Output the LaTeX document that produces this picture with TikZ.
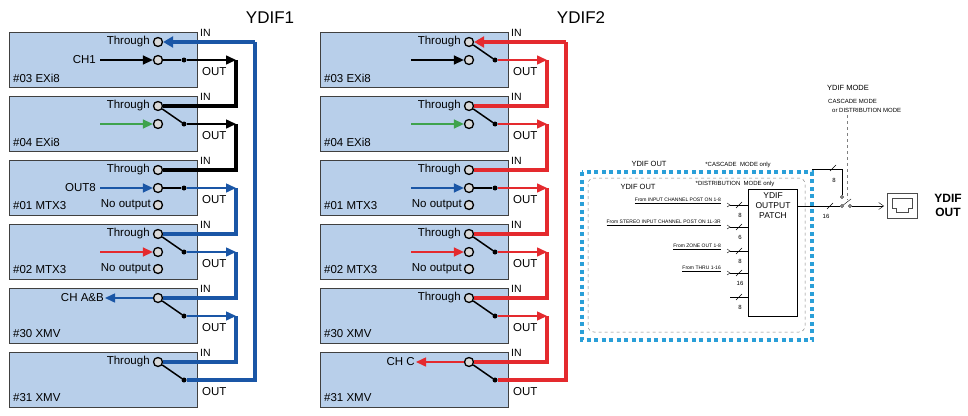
\documentclass[tikz,border=0pt]{standalone}
\usepackage{fontspec}
\setmainfont{Liberation Sans}
\usetikzlibrary{arrows.meta}
\definecolor{boxblue}{HTML}{B8CFEA}
\definecolor{ybus}{HTML}{1A56A6}
\definecolor{rbus}{HTML}{E42A2E}
\definecolor{gsig}{HTML}{3FA34D}
\definecolor{dashblue}{HTML}{2A9FD8}
\begin{document}
\begin{tikzpicture}[x=1pt,y=-1pt,font=\fontsize{11.5}{13}\selectfont,
  unit/.style={draw=black!75,line width=1pt,fill=boxblue,minimum width=188pt,minimum height=55pt,anchor=north west,inner sep=0},
  port/.style={circle,draw,line width=1.3pt,fill=gray!30,minimum size=9pt,inner sep=0},
  jdot/.style={circle,fill=black,minimum size=5pt,inner sep=0},
  bus/.style={line width=3.5pt},
  sw/.style={line width=1.5pt},
  sig/.style={line width=1.5pt,-{Triangle[length=10pt,width=9pt]}},
  tiny/.style={font=\fontsize{5}{6}\selectfont,inner sep=1pt}]
\useasboundingbox (0,0) rectangle (968,415);

% two columns of units
\foreach \c/\ox in {A/0,B/311}{
  \begin{scope}[xshift=\ox pt]
  \foreach \k/\nm in {1/\#03 EXi8,2/\#04 EXi8,3/\#01 MTX3,4/\#02 MTX3,5/\#30 XMV,6/\#31 XMV}{
    \pgfmathsetmacro\yt{32+64*(\k-1)}
    \node[unit] (u\c\k) at (9,\yt) {};
    \node[anchor=west,inner sep=0] (n\c\k) at (13,\yt+46) {\nm};
    \node[anchor=west,inner sep=0,font=\fontsize{10.5}{12}\selectfont] (in\c\k) at (200,\yt+1) {IN};
    \node[anchor=west,inner sep=0] (out\c\k) at (202,\yt+40) {OUT};
    \node[port] (th\c\k) at (158,\yt+10) {};
    \node[jdot] (d\c\k) at (184,\yt+28) {};
    \coordinate (b\c\k) at (236,\yt+28);
    \coordinate (s\c\k) at (100,\yt+28);
  }
  \foreach \k in {1,2,3,4}{
    \pgfmathsetmacro\yt{32+64*(\k-1)}
    \node[port] (ch\c\k) at (158,\yt+28) {};
  }
  \foreach \k in {3,4}{
    \pgfmathsetmacro\yt{32+64*(\k-1)}
    \node[port] (no\c\k) at (158,\yt+45) {};
    \node[anchor=east,inner sep=0] at (151,\yt+45) {No output};
  }
  \coordinate (r\c) at (255,32+10);
  \end{scope}
}
\foreach \k in {1,2,3,4,6}{\node[anchor=east,inner sep=1pt] at ([xshift=-2pt]thA\k.west) {Through};}
\foreach \k in {1,2,3,4,5}{\node[anchor=east,inner sep=1pt] at ([xshift=-2pt]thB\k.west) {Through};}

\node (ydif1) at (270,18) {\fontsize{17}{19}\selectfont YDIF1};
\node (ydif2) at (581,18) {\fontsize{17}{19}\selectfont YDIF2};

% YDIF1
\node[anchor=east,inner sep=1pt] at ([xshift=-3pt]sA1) {CH1};
\node[anchor=east,inner sep=1pt] at ([xshift=-3pt]sA3) {OUT8};
\draw[sig] (sA1) -- (chA1);
\draw[sig,gsig] (sA2) -- (chA2);
\draw[sig,ybus] (sA3) -- (chA3);
\draw[sig,rbus] (sA4) -- (chA4);
\draw[sw] (chA1) -- (dA1);
\draw[sw] (chA3) -- (dA3);
\foreach \k in {2,4,5,6}{\draw[sw] (thA\k) -- (dA\k);}
\draw[sig] (dA1) -- (bA1);
\draw[sig] (dA2) -- (bA2);
\foreach \k in {3,4,5}{\draw[sig,ybus] (dA\k) -- (bA\k);}
\draw[bus] (bA1) |- (thA2);
\draw[bus] (bA2) |- (thA3);
\draw[bus,ybus] (bA3) |- (thA4);
\draw[bus,ybus] (bA4) |- (thA5);
\draw[bus,ybus] (bA5) |- (thA6);
\draw[bus,ybus] (dA6) -| (rA);
\draw[bus,ybus,-{Triangle[length=10pt,width=11pt]}] (rA) -- (thA1);
\coordinate (chab) at (105,32+4*64+10);
\draw[sig,ybus] (thA5) -- (chab);
\node[anchor=east,inner sep=1pt] at (chab) {CH A\&B};

% YDIF2
\draw[sig] (sB1) -- (chB1);
\draw[sig,gsig] (sB2) -- (chB2);
\draw[sig,ybus] (sB3) -- (chB3);
\draw[sig,rbus] (sB4) -- (chB4);
\draw[sw] (chB3) -- (dB3);
\foreach \k in {1,2,4,5,6}{\draw[sw] (thB\k) -- (dB\k);}
\foreach \k in {1,2,3,4,5}{\draw[sig,rbus] (dB\k) -- (bB\k);}
\draw[bus,rbus] (bB1) |- (thB2);
\draw[bus,rbus] (bB2) |- (thB3);
\draw[bus,rbus] (bB3) |- (thB4);
\draw[bus,rbus] (bB4) |- (thB5);
\draw[bus,rbus] (bB5) |- (thB6);
\draw[bus,rbus] (dB6) -| (rB);
\draw[bus,rbus,-{Triangle[length=10pt,width=11pt]}] (rB) -- (thB1);
\coordinate (chc) at (416,32+5*64+10);
\draw[sig,rbus] (thB6) -- (chc);
\node[anchor=east,inner sep=1pt] at (chc) {CH C};

% YDIF OUT block
\draw[dashblue,line width=4pt,dash pattern=on 4pt off 3.5pt] (582,172) rectangle (812,340);
\draw[gray,dashed,line width=0.5pt,rounded corners=6pt] (588,178) rectangle (805,332);
\node[font=\fontsize{7.5}{8}\selectfont] (yo1) at (649,164) {YDIF OUT};
\node[font=\fontsize{7.5}{8}\selectfont] (yo2) at (638,187) {YDIF OUT};
\node[tiny,font=\fontsize{6}{7}\selectfont] (cas) at (738,165) {*CASCADE\ \ MODE only};
\node[tiny,font=\fontsize{6}{7}\selectfont] (dis) at (735,184) {*DISTRIBUTION\ \ MODE only};
\node[draw,line width=1pt,minimum width=49pt,minimum height=127pt,anchor=north west,inner sep=0] (patch) at (748,189) {};
\node[align=center,font=\fontsize{8.5}{10}\selectfont,anchor=north] at (patch.north) {YDIF\\OUTPUT\\PATCH};
\foreach \y/\txt/\n in {205/From INPUT CHANNEL POST ON 1-8/8,227/From STEREO INPUT CHANNEL POST ON 1L-3R/6,251/From ZONE OUT 1-8/8,273/From THRU 1-16/16}{
  \node[tiny,anchor=south east] at (722,\y) {\underline{\txt}};
  \draw[line width=0.4pt] (727,\y-2) -- (730,\y) -- (727,\y+2);
  \draw[line width=0.4pt] (730,\y) -- (748,\y);
  \draw[line width=0.4pt] (736,\y+3) -- (742,\y-3);
  \node[tiny,font=\fontsize{6}{7}\selectfont] at (740,\y+10) {\n};
}
\draw[line width=0.4pt] (730,297) -- (748,297);
\draw[line width=0.4pt] (736,300) -- (742,294);
\node[tiny,font=\fontsize{6}{7}\selectfont] at (740,307) {8};
% mode switch
\node[circle,draw,inner sep=0,minimum size=3pt] (c1) at (842,197) {};
\node[circle,draw,inner sep=0,minimum size=3pt] (c2) at (842,206) {};
\node[circle,draw,inner sep=0,minimum size=3pt] (c3) at (850,206) {};
\draw[line width=0.4pt] (812,169) -| (c1);
\draw[line width=0.4pt] (830,171) -- (836,165);
\node[tiny,font=\fontsize{6}{7}\selectfont] at (834,180) {8};
\draw[line width=0.4pt] (patch.east |- c2) -- (c2);
\draw[line width=0.4pt] (827,209) -- (833,203);
\node[tiny,font=\fontsize{6}{7}\selectfont] at (826,216) {16};
\draw[line width=0.4pt] (c2) -- ++(9,-7);
\draw[line width=0.4pt,-{Straight Barb[length=5pt,width=7pt]}] (c3) -- (884,206);
\draw[gray,dashed,line width=0.5pt] (847,115) -- (847,200);
\node[font=\fontsize{7.5}{8}\selectfont,inner sep=0] (ymode) at (848,88) {YDIF MODE};
\node[tiny,font=\fontsize{6}{7}\selectfont,anchor=west] at (827,101) {CASCADE MODE};
\node[tiny,font=\fontsize{6}{7}\selectfont,anchor=west] at (831,110) {or DISTRIBUTION MODE};
% jack
\draw[line width=0.6pt,gray!60!black] (887,193) rectangle (917,218);
\draw[line width=0.6pt,gray!60!black] (892,198) -- (912,198) -- (912,208) -- (908,208) -- (908,212) -- (896,212) -- (896,208) -- (892,208) -- cycle;
\node[font=\bfseries\fontsize{12}{14}\selectfont,align=center] (jout) at (948,205) {YDIF\\OUT};
\end{tikzpicture}
\end{document}
